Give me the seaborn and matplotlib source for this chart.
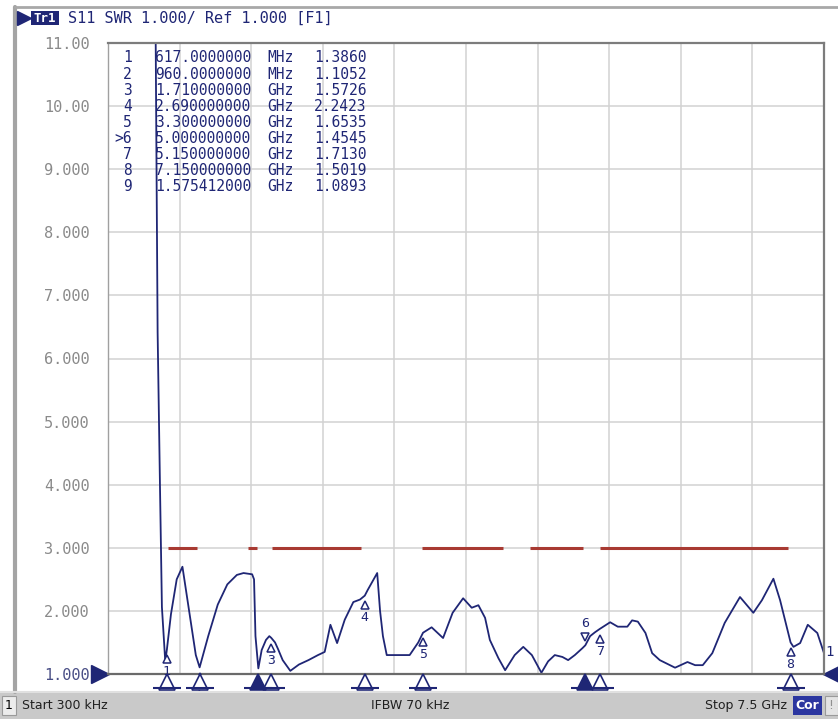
import numpy as np
import pandas as pd
from matplotlib import pyplot as plt
from matplotlib import patches as mpatches
from matplotlib import transforms as mtransforms
from matplotlib.lines import Line2D
import seaborn as sns

# S11 SWR trace (GHz, SWR)
freq_ghz = [0.0003, 0.50, 0.52, 0.545, 0.565, 0.60, 0.617, 0.66, 0.72, 0.78,
            0.85, 0.92, 0.96, 1.05, 1.15, 1.25, 1.35, 1.42, 1.51, 1.53,
            1.545, 1.575, 1.61, 1.655, 1.69, 1.71, 1.75, 1.78, 1.83, 1.91,
            2.0, 2.1, 2.2, 2.27, 2.33, 2.40, 2.48, 2.57, 2.64, 2.69,
            2.72, 2.82, 2.85, 2.88, 2.92, 3.16, 3.25, 3.30, 3.39, 3.51,
            3.61, 3.72, 3.81, 3.88, 3.95, 4.00, 4.09, 4.16, 4.26, 4.35,
            4.44, 4.54, 4.61, 4.68, 4.76, 4.82, 4.89, 4.97, 5.00, 5.05,
            5.10, 5.15, 5.26, 5.34, 5.44, 5.49, 5.55, 5.63, 5.70, 5.78,
            5.94, 6.07, 6.15, 6.23, 6.33, 6.46, 6.62, 6.76, 6.85, 6.97,
            7.04, 7.15, 7.18, 7.25, 7.33, 7.43, 7.50]
swr = [11.0, 11.0, 6.42, 3.95, 2.06, 1.20, 1.386, 1.95, 2.50, 2.70,
       2.00, 1.30, 1.105, 1.60, 2.10, 2.42, 2.57, 2.60, 2.58, 2.50,
       1.60, 1.089, 1.38, 1.54, 1.60, 1.573, 1.50, 1.40, 1.22, 1.05,
       1.15, 1.22, 1.30, 1.35, 1.78, 1.49, 1.86, 2.14, 2.18, 2.242,
       2.33, 2.60, 2.00, 1.60, 1.30, 1.30, 1.50, 1.654, 1.74, 1.57,
       1.97, 2.20, 2.05, 2.09, 1.89, 1.54, 1.25, 1.06, 1.30, 1.43,
       1.30, 1.02, 1.20, 1.30, 1.27, 1.22, 1.30, 1.41, 1.455, 1.60,
       1.66, 1.713, 1.82, 1.75, 1.75, 1.85, 1.83, 1.65, 1.33, 1.22,
       1.10, 1.19, 1.14, 1.14, 1.33, 1.81, 2.22, 1.97, 2.17, 2.51,
       2.17, 1.50, 1.43, 1.49, 1.78, 1.65, 1.33]

# marker table
marker_ids = ['1', '2', '3', '4', '5', '>6', '7', '8', '9']
marker_freq_text = ['617.0000000', '960.0000000', '1.710000000', '2.690000000',
                    '3.300000000', '5.000000000', '5.150000000', '7.150000000',
                    '1.575412000']
marker_unit = ['MHz', 'MHz', 'GHz', 'GHz', 'GHz', 'GHz', 'GHz', 'GHz', 'GHz']
marker_value = [1.3860, 1.1052, 1.5726, 2.2423, 1.6535, 1.4545, 1.7130, 1.5019, 1.0893]
marker_ghz = [0.617, 0.96, 1.71, 2.69, 3.30, 5.00, 5.15, 7.15, 1.575412]

# limit line segments at SWR 3
limit_start = [0.63, 1.47, 1.72, 3.29, 4.42, 5.15]
limit_stop = [0.93, 1.56, 2.65, 4.14, 4.98, 7.12]
limit_swr = 3.0

y_ticks = [1, 2, 3, 4, 5, 6, 7, 8, 9, 10, 11]
y_tick_labels = ['1.000', '2.000', '3.000', '4.000', '5.000', '6.000',
                 '7.000', '8.000', '9.000', '10.00', '11.00']

start_ghz, stop_ghz = 0.0003, 7.5

navy = '#1f2675'
mono = 'DejaVu Sans Mono'

sns.set_theme(style='white')
plt.rcParams['font.family'] = ['DejaVu Sans']

W, H = 838, 719
fig = plt.figure(figsize=(W / 100, H / 100), dpi=100)
fig.patch.set_facecolor('white')

def fx(px):
    return px / W

def fy(py):
    return 1 - py / H

ax = fig.add_axes([fx(108), fy(674), fx(824) - fx(108), fy(43) - fy(674)])

trace = pd.DataFrame({'freq': freq_ghz, 'swr': swr})
sns.lineplot(data=trace, x='freq', y='swr', sort=False, estimator=None,
             color=navy, linewidth=1.3, ax=ax)

# limit lines
ax.hlines([limit_swr] * len(limit_start), limit_start, limit_stop,
          color='#a83a32', linewidth=2.2, zorder=3)

ax.set_xlim(start_ghz, stop_ghz)
ax.set_ylim(1, 11)
ax.set_xticks(np.linspace(start_ghz, stop_ghz, 11))
ax.set_xticklabels([])
ax.set_yticks(y_ticks)
ax.set_yticklabels(y_tick_labels, family=mono, fontsize=11, color='#8a8a8a')
ax.get_yticklabels()[0].set_color('#4a4f86')
ax.tick_params(length=0, pad=13)
ax.grid(True, color='#d2d2d2', linewidth=1.1)
ax.set_xlabel('')
ax.set_ylabel('')
for side in ['top', 'right']:
    ax.spines[side].set_color('#7c7c7c')
    ax.spines[side].set_linewidth(1.6)
ax.spines['bottom'].set_color('#6a6a6a')
ax.spines['bottom'].set_linewidth(1.6)
ax.spines['left'].set_color('#a0a0a0')
ax.spines['left'].set_linewidth(1.0)

# marker table in the top left corner
for i in range(len(marker_ids)):
    yy = 1 - (15 + i * 16.1) / 631
    ax.text((132 - 108) / 716, yy, marker_ids[i], transform=ax.transAxes,
            ha='right', va='center', family=mono, fontsize=10.5, color=navy)
    ax.text((155 - 108) / 716, yy, marker_freq_text[i], transform=ax.transAxes,
            ha='left', va='center', family=mono, fontsize=10.5, color=navy)
    ax.text((267 - 108) / 716, yy, marker_unit[i], transform=ax.transAxes,
            ha='left', va='center', family=mono, fontsize=10.5, color=navy)
    ax.text((314 - 108) / 716, yy, f'{marker_value[i]:.4f}', transform=ax.transAxes,
            ha='left', va='center', family=mono, fontsize=10.5, color=navy)

# markers on the trace
for i in range(len(marker_ids)):
    label = marker_ids[i].replace('>', '')
    if label == '9':
        continue
    mx, my = marker_ghz[i], marker_value[i]
    if label == '6':
        tri = mtransforms.offset_copy(ax.transData, fig=fig, x=0, y=6, units='points')
        ax.plot([mx], [my], marker='v', markersize=6, markerfacecolor='white',
                markeredgecolor=navy, markeredgewidth=1.1, transform=tri, zorder=5)
        ax.annotate(label, (mx, my), xytext=(0, 16), textcoords='offset points',
                    ha='center', va='center', family=mono, fontsize=9.5, color=navy)
    else:
        tri = mtransforms.offset_copy(ax.transData, fig=fig, x=0, y=-7, units='points')
        ax.plot([mx], [my], marker='^', markersize=6, markerfacecolor='white',
                markeredgecolor=navy, markeredgewidth=1.1, transform=tri, zorder=5)
        ax.annotate(label, (mx, my), xytext=(0, -16), textcoords='offset points',
                    ha='center', va='center', family=mono, fontsize=9.5, color=navy)

# marker flags under the axis
under = mtransforms.blended_transform_factory(ax.transData, ax.transAxes)
for i in range(len(marker_ids)):
    filled = marker_ids[i] in ('>6', '9')
    ax.plot([marker_ghz[i]], [-0.013], marker='^', markersize=11,
            markerfacecolor=navy if filled else 'white', markeredgecolor=navy,
            markeredgewidth=1.2, transform=under, clip_on=False, zorder=6)
    ax.plot([marker_ghz[i]], [-0.022], marker='_', markersize=20,
            markeredgecolor=navy, markeredgewidth=1.5, transform=under,
            clip_on=False, zorder=6)

# reference level arrows and trace number
ax.plot([-0.011], [0], marker='>', markersize=13, color=navy,
        transform=ax.transAxes, clip_on=False)
ax.plot([1.011], [0], marker='<', markersize=13, color=navy,
        transform=ax.transAxes, clip_on=False)
ax.text(1.008, 0.035, '1', transform=ax.transAxes, ha='center', va='center',
        family=mono, fontsize=10, color=navy)

# screen frame
fig.add_artist(Line2D([fx(15), fx(15)], [fy(7), fy(692)], color='#a4a4a4', linewidth=3))
fig.add_artist(Line2D([fx(15), 1], [fy(7), fy(7)], color='#a8a8a8', linewidth=2))

# header line
fig.add_artist(Line2D([fx(24)], [fy(18)], marker='>', markersize=10, color=navy))
fig.add_artist(mpatches.Rectangle((fx(31), fy(25)), fx(28), fy(11) - fy(25),
                                  facecolor=navy, edgecolor='none'))
fig.text(fx(45), fy(18), 'Tr1', ha='center', va='center', family=mono,
         fontsize=9, color='white', weight='bold')
fig.text(fx(68), fy(18), 'S11 SWR 1.000/ Ref 1.000 [F1]', ha='left', va='center',
         family=mono, fontsize=11, color=navy)

# status bar
fig.add_artist(mpatches.Rectangle((0, 0), 1, fy(692), facecolor='#c9c9c9', edgecolor='none'))
fig.add_artist(Line2D([0, 1], [fy(692), fy(692)], color='#e0e0e0', linewidth=1.5))
fig.add_artist(mpatches.Rectangle((fx(2), fy(715)), fx(14), fy(696) - fy(715),
                                  facecolor='#ececec', edgecolor='#9a9a9a', linewidth=0.8))
fig.text(fx(9), fy(705.5), '1', ha='center', va='center', fontsize=9, color='black')
fig.text(fx(22), fy(705.5), 'Start 300 kHz', ha='left', va='center', fontsize=9, color='#202020')
fig.text(fx(410), fy(705.5), 'IFBW 70 kHz', ha='center', va='center', fontsize=9, color='#202020')
fig.text(fx(787), fy(705.5), 'Stop 7.5 GHz', ha='right', va='center', fontsize=9, color='#202020')
fig.add_artist(mpatches.Rectangle((fx(793), fy(715)), fx(29), fy(696) - fy(715),
                                  facecolor='#2b36a0', edgecolor='none'))
fig.text(fx(807.5), fy(705.5), 'Cor', ha='center', va='center', fontsize=9,
         color='white', weight='bold')
fig.add_artist(mpatches.Rectangle((fx(825), fy(715)), fx(13), fy(696) - fy(715),
                                  facecolor='#e4e4e4', edgecolor='#9a9a9a', linewidth=0.8))
fig.text(fx(831), fy(705.5), '!', ha='center', va='center', fontsize=9, color='#909090')

fig.savefig('out.png', dpi=100)
